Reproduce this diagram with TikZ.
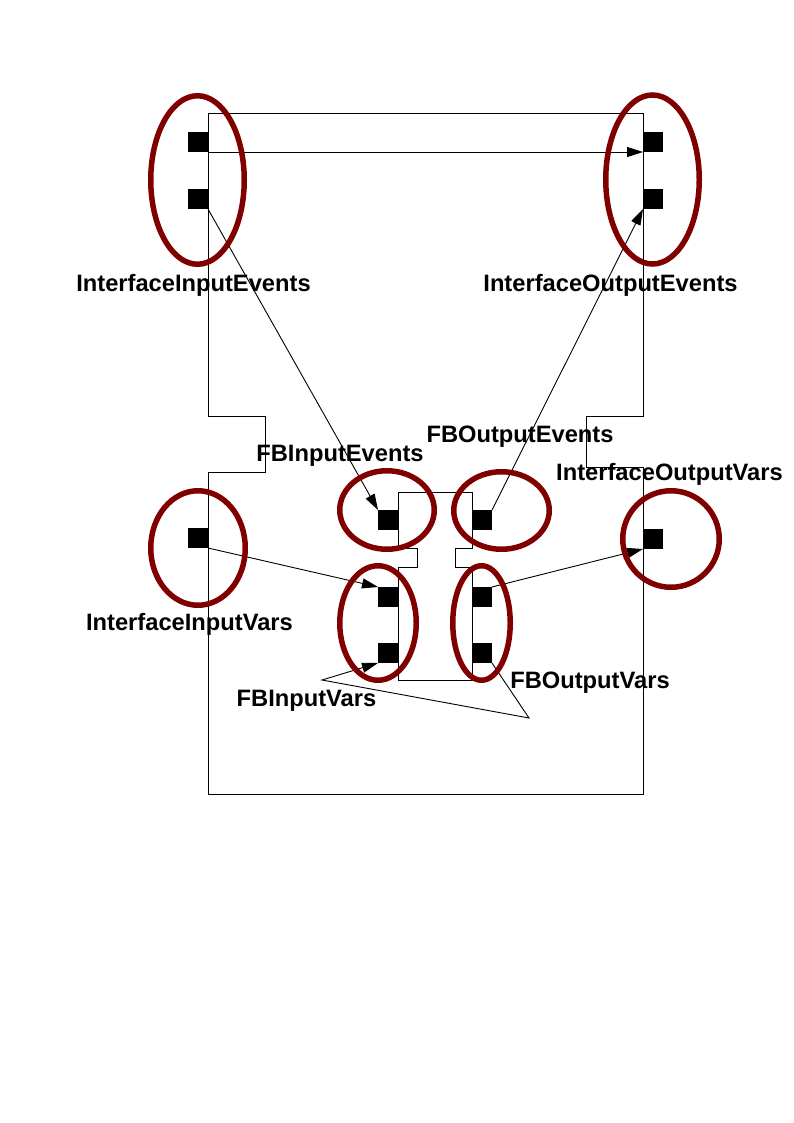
\documentclass[tikz,border=0pt]{standalone}
\usepackage{fontspec}
\setmainfont{Liberation Sans}
\usetikzlibrary{arrows.meta}
\definecolor{ringred}{RGB}{128,0,0}

\tikzset{
  port/.style={rectangle, fill=black, inner sep=0pt, outer sep=0pt, minimum size=20pt},
  ring/.style={draw=ringred, line width=5.5pt},
  lbl/.style={anchor=base, inner sep=0pt, font=\fontsize{23.7}{27}\selectfont\bfseries},
  link/.style={-{Triangle[length=16pt,width=10pt]}},
}

\begin{document}
\begin{tikzpicture}
  [x=1pt, y=-1pt, line width=0.9pt]
  \useasboundingbox (0,0) rectangle (794,1123);
  % interface and function block outlines
  \draw (208,113) -- (643,113) -- (643,416) -- (586,416) -- (586,467) -- (643,467)
    -- (643,794) -- (208,794) -- (208,472) -- (265,472) -- (265,416) -- (208,416) -- cycle;
  \draw (398,492) -- (472,492) -- (472,548) -- (455,548) -- (455,567) -- (472,567)
    -- (472,680) -- (398,680) -- (398,567) -- (417,567) -- (417,548) -- (398,548) -- cycle;

  \node[port, anchor=north east] (iie1) at (208,132) {};
  \node[port, anchor=north east] (iie2) at (208,189) {};
  \node[port, anchor=north west] (ioe1) at (643,132) {};
  \node[port, anchor=north west] (ioe2) at (643,189) {};
  \node[port, anchor=north east] (iiv) at (208,528) {};
  \node[port, anchor=north west] (iov) at (643,529) {};
  \node[port, anchor=north east] (fbie) at (398,510) {};
  \node[port, anchor=north west] (fboe) at (472,510) {};
  \node[port, anchor=north east] (fbiv1) at (398,587) {};
  \node[port, anchor=north east] (fbiv2) at (398,643) {};
  \node[port, anchor=north west] (fbov1) at (472,587) {};
  \node[port, anchor=north west] (fbov2) at (472,643) {};

  \node[lbl] (iieLbl) at (193.5,291) {InterfaceInputEvents};
  \node[lbl] (ioeLbl) at (610.5,291) {InterfaceOutputEvents};
  \node[lbl] (fbieLbl) at (340,461) {FBInputEvents};
  \node[lbl] (fboeLbl) at (520,442) {FBOutputEvents};
  \node[lbl] (iovLbl) at (669.5,480) {InterfaceOutputVars};
  \node[lbl] (iivLbl) at (189.5,630) {InterfaceInputVars};
  \node[lbl] (fbivLbl) at (306.5,706) {FBInputVars};
  \node[lbl] (fbovLbl) at (590,688) {FBOutputVars};

  \foreach \from/\to in {iie1.south east/ioe1.south west,iie2.south east/fbie.north west,
    fboe.north east/ioe2.south west,iiv.south east/fbiv1.north west,fbov1.north east/iov.south west}
  \draw[link] (\from) -- (\to);
  \coordinate (fbk1) at (529,718);
  \coordinate (fbk2) at (322,680);
  \draw[link] (fbov2.south east) -- (fbk1) -- (fbk2) -- (fbiv2.south west);

  % groups
  \draw[ring] (197.5,180) ellipse [x radius=46.75pt, y radius=84.25pt];
  \draw[ring] (652.5,179.5) ellipse [x radius=46.75pt, y radius=84.5pt];
  \draw[ring] (198,548) ellipse [x radius=47.25pt, y radius=57.25pt];
  \draw[ring] (671,539) ellipse [x radius=48.25pt, y radius=48.25pt];
  \draw[ring] (387,510) ellipse [x radius=47.25pt, y radius=39.25pt];
  \draw[ring] (501.5,510.5) ellipse [x radius=47.75pt, y radius=38.75pt];
  \draw[ring] (378,623) ellipse [x radius=38.25pt, y radius=57.25pt];
  \draw[ring] (481.5,623) ellipse [x radius=28.75pt, y radius=57.25pt];
\end{tikzpicture}
\end{document}
